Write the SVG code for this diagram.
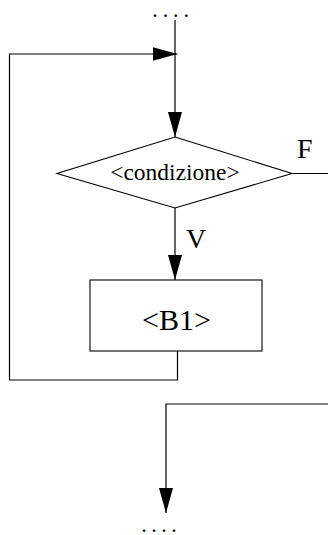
<svg xmlns="http://www.w3.org/2000/svg" width="328" height="535" viewBox="0 0 328 535">
<style>
.ln{fill:none;stroke:#000;stroke-width:1.2}
.shape{fill:#fff;stroke:#000;stroke-width:1.1}
.t{font-family:"Liberation Serif","Times New Roman",serif;fill:#000}
.dots{font-family:"Liberation Serif","Times New Roman",serif;font-weight:bold;font-size:16px;fill:#000}
</style>
<defs>
<marker id="ah" markerUnits="userSpaceOnUse" markerWidth="26" markerHeight="14" refX="25" refY="7" orient="auto">
<path d="M0,0 L25,7 L0,14 Z" fill="#000"/>
</marker>
</defs>
<rect width="328" height="535" fill="#fff"/>
<g id="connectors">
<path class="ln" d="M175,20 V137" marker-end="url(#ah)"/>
<path class="ln" d="M177.5,351 V380 H9.5 V54 H177.5" marker-end="url(#ah)"/>
<path class="ln" d="M175,208 V280" marker-end="url(#ah)"/>
<path class="ln" d="M292,173.5 H328"/>
<path class="ln" d="M328,404 H166 V513" marker-end="url(#ah)"/>
</g>
<g id="top-dots"><text class="dots" x="153" y="16.5" letter-spacing="6.4">....</text></g>
<g id="condizione">
<polygon class="shape" points="175,137 292,173.5 175,208 57,173.5"/>
<text class="t" x="175" y="179.5" font-size="23.5" text-anchor="middle">&lt;condizione&gt;</text>
</g>
<g id="label-F"><text class="t" x="297" y="157.5" font-size="28">F</text></g>
<g id="label-V"><text class="t" x="186" y="248" font-size="28">V</text></g>
<g id="B1">
<rect class="shape" x="90" y="280" width="172" height="71"/>
<text class="t" x="176.5" y="330" font-size="30" text-anchor="middle">&lt;B1&gt;</text>
</g>
<g id="bottom-dots"><text class="dots" x="142" y="531.5" letter-spacing="6">....</text></g>
</svg>
